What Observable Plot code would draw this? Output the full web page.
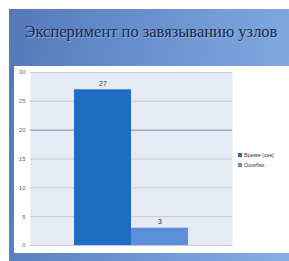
<!DOCTYPE html>
<html><head><meta charset="utf-8">
<script src="https://cdn.jsdelivr.net/npm/d3@7"></script>
<script src="https://cdn.jsdelivr.net/npm/@observablehq/plot@0.6"></script>
<style>
html,body{margin:0;padding:0;background:#fff;}
#slide{position:absolute;left:9px;top:9px;width:280px;height:252px;background:linear-gradient(100deg,#5478b8 0%,#6f97d2 55%,#86aee3 100%);}
#title{position:absolute;left:11px;top:22px;width:280px;text-align:center;font-family:"Liberation Serif",serif;font-size:16.5px;color:#17284f;text-shadow:1px 1px 1px #9fb6dc;white-space:nowrap;}
#box{position:absolute;left:14px;top:66px;width:275px;height:187px;background:#fff;}
#chart{position:absolute;left:14px;top:66px;}
#legend{position:absolute;left:238px;top:150px;font-family:"Liberation Sans",sans-serif;font-size:5.5px;color:#333;line-height:10px;}
#legend span.sw{display:inline-block;width:4px;height:4px;margin-right:2px;}
</style></head>
<body>
<div id="slide"></div>
<div id="title">Эксперимент по завязыванию узлов</div>
<div id="box"></div>
<div id="chart"></div>
<div id="legend"></div>
<script>
const categories = ["Время (сек)", "Ошибки"];
const values = [27, 3];
const colors = ["#1f6cc4", "#5c8fd8"];
const yTicks = [0, 5, 10, 15, 20, 25, 30];

const data = categories.map((c, i) => ({c, v: values[i], col: colors[i]}));

const plot = Plot.plot({
  width: 275, height: 187,
  marginLeft: 16, marginTop: 6, marginBottom: 8, marginRight: 57,
  style: {fontFamily: "Liberation Sans, sans-serif", fontSize: "6px", background: "transparent", color: "#555"},
  x: {domain: categories, paddingInner: 0, paddingOuter: 0.76, axis: null},
  y: {domain: [0, 30], ticks: yTicks, tickSize: 0, tickPadding: 4, label: null},
  marks: [
    Plot.frame({fill: "#e5eaf4", stroke: null}),
    Plot.gridY(yTicks.filter(t => t !== 20), {stroke: "#c3cbd8", strokeOpacity: 1}),
    Plot.gridY([20], {stroke: "#7d8aa0", strokeOpacity: 1}),
    Plot.barY(data, {x: "c", y: "v", fill: "col"}),
    Plot.text(data, {x: "c", y: "v", text: d => String(d.v), dy: -6, fill: "#333", fontSize: 7}),
    Plot.axisY({ticks: yTicks, tickSize: 0, tickPadding: 5, label: null, fill: "#666"})
  ]
});
document.getElementById("chart").appendChild(plot);

const lg = document.getElementById("legend");
categories.forEach((c, i) => {
  const row = document.createElement("div");
  row.innerHTML = `<span class="sw" style="background:${colors[i]}"></span>${c}`;
  lg.appendChild(row);
});
</script>
</body></html>
